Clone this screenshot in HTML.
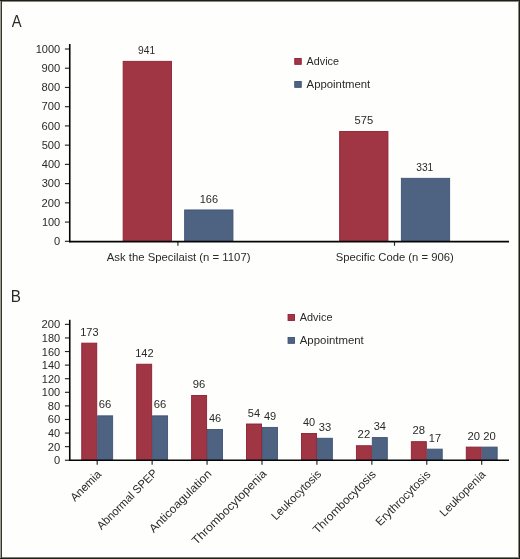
<!DOCTYPE html>
<html><head><meta charset="utf-8"><style>
html,body{margin:0;padding:0;background:#fefefd;width:520px;height:559px;overflow:hidden;}
svg{display:block;will-change:transform;}
</style></head><body>
<svg width="520" height="559" viewBox="0 0 520 559">
<rect x="0" y="0" width="520" height="559" fill="#fefefd"/>
<g font-family="Liberation Sans, sans-serif" fill="#2a2a28">
<text x="11.67" y="26.90" font-size="17.4" textLength="9.86" lengthAdjust="spacingAndGlyphs">A</text>
<text x="54.07" y="245.10" font-size="11.4" textLength="6.17" lengthAdjust="spacingAndGlyphs">0</text>
<text x="41.91" y="225.87" font-size="11.4" textLength="18.31" lengthAdjust="spacingAndGlyphs">100</text>
<text x="41.54" y="206.64" font-size="11.4" textLength="18.70" lengthAdjust="spacingAndGlyphs">200</text>
<text x="41.68" y="187.41" font-size="11.4" textLength="18.56" lengthAdjust="spacingAndGlyphs">300</text>
<text x="41.85" y="168.18" font-size="11.4" textLength="18.38" lengthAdjust="spacingAndGlyphs">400</text>
<text x="41.65" y="148.95" font-size="11.4" textLength="18.58" lengthAdjust="spacingAndGlyphs">500</text>
<text x="41.53" y="129.72" font-size="11.4" textLength="18.71" lengthAdjust="spacingAndGlyphs">600</text>
<text x="41.52" y="110.49" font-size="11.4" textLength="18.71" lengthAdjust="spacingAndGlyphs">700</text>
<text x="41.61" y="91.26" font-size="11.4" textLength="18.62" lengthAdjust="spacingAndGlyphs">800</text>
<text x="41.58" y="72.03" font-size="11.4" textLength="18.66" lengthAdjust="spacingAndGlyphs">900</text>
<text x="35.71" y="52.80" font-size="11.4" textLength="24.52" lengthAdjust="spacingAndGlyphs">1000</text>
<rect x="123.15" y="61.35" width="48.30" height="180.13" fill="#a03543" stroke="#8e2034" stroke-width="0.9"/>
<rect x="184.65" y="209.95" width="48.30" height="31.53" fill="#4e6382" stroke="#3e5377" stroke-width="0.9"/>
<text x="137.97" y="54.00" font-size="11.4" textLength="17.13" lengthAdjust="spacingAndGlyphs">941</text>
<text x="199.76" y="202.60" font-size="11.4" textLength="18.37" lengthAdjust="spacingAndGlyphs">166</text>
<rect x="339.65" y="131.53" width="48.30" height="109.95" fill="#a03543" stroke="#8e2034" stroke-width="0.9"/>
<rect x="401.35" y="178.31" width="48.30" height="63.17" fill="#4e6382" stroke="#3e5377" stroke-width="0.9"/>
<text x="354.50" y="124.18" font-size="11.4" textLength="18.62" lengthAdjust="spacingAndGlyphs">575</text>
<text x="416.26" y="170.96" font-size="11.4" textLength="17.04" lengthAdjust="spacingAndGlyphs">331</text>
<rect x="294.75" y="58.45" width="6.50" height="5.90" fill="#a03543" stroke="#8e2034" stroke-width="0.9"/>
<rect x="294.75" y="81.45" width="6.50" height="5.90" fill="#4e6382" stroke="#3e5377" stroke-width="0.9"/>
<text x="306.58" y="64.50" font-size="11.6" textLength="32.40" lengthAdjust="spacingAndGlyphs">Advice</text>
<text x="306.58" y="87.60" font-size="11.6" textLength="63.71" lengthAdjust="spacingAndGlyphs">Appointment</text>
<text x="106.78" y="260.70" font-size="11.6" textLength="143.72" lengthAdjust="spacingAndGlyphs">Ask the Specilaist (n = 1107)</text>
<text x="335.69" y="260.70" font-size="11.6" textLength="118.01" lengthAdjust="spacingAndGlyphs">Specific Code (n = 906)</text>
</g>
<g stroke="#050505" fill="none">
<line x1="64.9" y1="241.30" x2="69.5" y2="241.30" stroke="#262622" stroke-width="1.15"/>
<line x1="64.9" y1="222.07" x2="69.5" y2="222.07" stroke="#262622" stroke-width="1.15"/>
<line x1="64.9" y1="202.84" x2="69.5" y2="202.84" stroke="#262622" stroke-width="1.15"/>
<line x1="64.9" y1="183.61" x2="69.5" y2="183.61" stroke="#262622" stroke-width="1.15"/>
<line x1="64.9" y1="164.38" x2="69.5" y2="164.38" stroke="#262622" stroke-width="1.15"/>
<line x1="64.9" y1="145.15" x2="69.5" y2="145.15" stroke="#262622" stroke-width="1.15"/>
<line x1="64.9" y1="125.92" x2="69.5" y2="125.92" stroke="#262622" stroke-width="1.15"/>
<line x1="64.9" y1="106.69" x2="69.5" y2="106.69" stroke="#262622" stroke-width="1.15"/>
<line x1="64.9" y1="87.46" x2="69.5" y2="87.46" stroke="#262622" stroke-width="1.15"/>
<line x1="64.9" y1="68.23" x2="69.5" y2="68.23" stroke="#262622" stroke-width="1.15"/>
<line x1="64.9" y1="49.00" x2="69.5" y2="49.00" stroke="#262622" stroke-width="1.15"/>
<line x1="177.9" y1="241.3" x2="177.9" y2="245.8" stroke="#262622" stroke-width="1.15"/>
<line x1="394.5" y1="241.3" x2="394.5" y2="245.8" stroke="#262622" stroke-width="1.15"/>
<line x1="69.75" y1="44.0" x2="69.75" y2="242.3" stroke-width="1.6"/>
<line x1="69.0" y1="241.6" x2="509" y2="241.6" stroke-width="1.6"/>
</g>
<g font-family="Liberation Sans, sans-serif" fill="#2a2a28">
<text x="10.85" y="302.30" font-size="17.4" textLength="10.15" lengthAdjust="spacingAndGlyphs">B</text>
<text x="54.02" y="464.24" font-size="11.4" textLength="6.17" lengthAdjust="spacingAndGlyphs">0</text>
<text x="47.68" y="450.65" font-size="11.4" textLength="12.50" lengthAdjust="spacingAndGlyphs">20</text>
<text x="48.00" y="437.06" font-size="11.4" textLength="12.18" lengthAdjust="spacingAndGlyphs">40</text>
<text x="47.68" y="423.48" font-size="11.4" textLength="12.51" lengthAdjust="spacingAndGlyphs">60</text>
<text x="47.76" y="409.89" font-size="11.4" textLength="12.42" lengthAdjust="spacingAndGlyphs">80</text>
<text x="41.86" y="396.30" font-size="11.4" textLength="18.31" lengthAdjust="spacingAndGlyphs">100</text>
<text x="41.86" y="382.71" font-size="11.4" textLength="18.31" lengthAdjust="spacingAndGlyphs">120</text>
<text x="41.86" y="369.12" font-size="11.4" textLength="18.31" lengthAdjust="spacingAndGlyphs">140</text>
<text x="41.86" y="355.54" font-size="11.4" textLength="18.31" lengthAdjust="spacingAndGlyphs">160</text>
<text x="41.86" y="341.95" font-size="11.4" textLength="18.31" lengthAdjust="spacingAndGlyphs">180</text>
<text x="41.49" y="328.36" font-size="11.4" textLength="18.70" lengthAdjust="spacingAndGlyphs">200</text>
<rect x="81.75" y="343.15" width="15.00" height="117.24" fill="#a03543" stroke="#8e2034" stroke-width="0.9"/>
<rect x="97.65" y="415.85" width="15.00" height="44.54" fill="#4e6382" stroke="#3e5377" stroke-width="0.9"/>
<text x="80.21" y="335.70" font-size="11.4" textLength="18.37" lengthAdjust="spacingAndGlyphs">173</text>
<text x="98.83" y="408.40" font-size="11.4" textLength="12.57" lengthAdjust="spacingAndGlyphs">66</text>
<rect x="136.68" y="364.22" width="15.00" height="96.17" fill="#a03543" stroke="#8e2034" stroke-width="0.9"/>
<rect x="152.58" y="415.85" width="15.00" height="44.54" fill="#4e6382" stroke="#3e5377" stroke-width="0.9"/>
<text x="135.14" y="356.77" font-size="11.4" textLength="18.45" lengthAdjust="spacingAndGlyphs">142</text>
<text x="153.76" y="408.40" font-size="11.4" textLength="12.57" lengthAdjust="spacingAndGlyphs">66</text>
<rect x="191.61" y="395.47" width="15.00" height="64.92" fill="#a03543" stroke="#8e2034" stroke-width="0.9"/>
<rect x="207.51" y="429.44" width="15.00" height="30.95" fill="#4e6382" stroke="#3e5377" stroke-width="0.9"/>
<text x="192.83" y="388.02" font-size="11.4" textLength="12.52" lengthAdjust="spacingAndGlyphs">96</text>
<text x="209.01" y="421.99" font-size="11.4" textLength="12.24" lengthAdjust="spacingAndGlyphs">46</text>
<rect x="246.54" y="424.00" width="15.00" height="36.39" fill="#a03543" stroke="#8e2034" stroke-width="0.9"/>
<rect x="262.44" y="427.40" width="15.00" height="32.99" fill="#4e6382" stroke="#3e5377" stroke-width="0.9"/>
<text x="247.85" y="416.55" font-size="11.4" textLength="12.26" lengthAdjust="spacingAndGlyphs">54</text>
<text x="263.94" y="419.95" font-size="11.4" textLength="12.28" lengthAdjust="spacingAndGlyphs">49</text>
<rect x="301.47" y="433.51" width="15.00" height="26.88" fill="#a03543" stroke="#8e2034" stroke-width="0.9"/>
<rect x="317.37" y="438.27" width="15.00" height="22.12" fill="#4e6382" stroke="#3e5377" stroke-width="0.9"/>
<text x="302.97" y="426.06" font-size="11.4" textLength="12.18" lengthAdjust="spacingAndGlyphs">40</text>
<text x="318.69" y="430.82" font-size="11.4" textLength="12.42" lengthAdjust="spacingAndGlyphs">33</text>
<rect x="356.40" y="445.74" width="15.00" height="14.65" fill="#a03543" stroke="#8e2034" stroke-width="0.9"/>
<rect x="372.30" y="437.59" width="15.00" height="22.80" fill="#4e6382" stroke="#3e5377" stroke-width="0.9"/>
<text x="357.58" y="438.29" font-size="11.4" textLength="12.64" lengthAdjust="spacingAndGlyphs">22</text>
<text x="373.63" y="430.14" font-size="11.4" textLength="12.24" lengthAdjust="spacingAndGlyphs">34</text>
<rect x="411.33" y="441.67" width="15.00" height="18.72" fill="#a03543" stroke="#8e2034" stroke-width="0.9"/>
<rect x="427.23" y="449.14" width="15.00" height="11.25" fill="#4e6382" stroke="#3e5377" stroke-width="0.9"/>
<text x="412.51" y="434.22" font-size="11.4" textLength="12.56" lengthAdjust="spacingAndGlyphs">28</text>
<text x="428.79" y="441.69" font-size="11.4" textLength="12.24" lengthAdjust="spacingAndGlyphs">17</text>
<rect x="466.26" y="447.10" width="15.00" height="13.29" fill="#a03543" stroke="#8e2034" stroke-width="0.9"/>
<rect x="482.16" y="447.10" width="15.00" height="13.29" fill="#4e6382" stroke="#3e5377" stroke-width="0.9"/>
<text x="467.44" y="439.65" font-size="11.4" textLength="12.50" lengthAdjust="spacingAndGlyphs">20</text>
<text x="483.34" y="439.65" font-size="11.4" textLength="12.50" lengthAdjust="spacingAndGlyphs">20</text>
<rect x="288.05" y="314.55" width="6.50" height="5.90" fill="#a03543" stroke="#8e2034" stroke-width="0.9"/>
<rect x="288.05" y="337.45" width="6.50" height="5.90" fill="#4e6382" stroke="#3e5377" stroke-width="0.9"/>
<text x="299.78" y="320.80" font-size="11.6" textLength="32.71" lengthAdjust="spacingAndGlyphs">Advice</text>
<text x="299.78" y="343.80" font-size="11.6" textLength="64.01" lengthAdjust="spacingAndGlyphs">Appointment</text>
<text transform="translate(101.98,475.02) rotate(-45)" x="-38.33" y="0" font-size="11.6" textLength="38.33" lengthAdjust="spacingAndGlyphs">Anemia</text>
<text transform="translate(158.26,473.67) rotate(-45)" x="-80.13" y="0" font-size="11.6" textLength="80.13" lengthAdjust="spacingAndGlyphs">Abnormal SPEP</text>
<text transform="translate(212.27,474.59) rotate(-45)" x="-82.89" y="0" font-size="11.6" textLength="82.89" lengthAdjust="spacingAndGlyphs">Anticoagulation</text>
<text transform="translate(267.20,474.59) rotate(-45)" x="-100.04" y="0" font-size="11.6" textLength="100.04" lengthAdjust="spacingAndGlyphs">Thrombocytopenia</text>
<text transform="translate(321.99,474.73) rotate(-45)" x="-65.16" y="0" font-size="11.6" textLength="65.16" lengthAdjust="spacingAndGlyphs">Leukocytosis</text>
<text transform="translate(376.60,475.05) rotate(-45)" x="-83.75" y="0" font-size="11.6" textLength="83.75" lengthAdjust="spacingAndGlyphs">Thrombocytosis</text>
<text transform="translate(431.28,475.30) rotate(-45)" x="-72.24" y="0" font-size="11.6" textLength="72.24" lengthAdjust="spacingAndGlyphs">Erythrocytosis</text>
<text transform="translate(486.21,475.30) rotate(-45)" x="-59.35" y="0" font-size="11.6" textLength="59.35" lengthAdjust="spacingAndGlyphs">Leukopenia</text>
</g>
<g stroke="#050505" fill="none">
<line x1="64.9" y1="460.24" x2="69.5" y2="460.24" stroke="#262622" stroke-width="1.15"/>
<line x1="64.9" y1="446.65" x2="69.5" y2="446.65" stroke="#262622" stroke-width="1.15"/>
<line x1="64.9" y1="433.06" x2="69.5" y2="433.06" stroke="#262622" stroke-width="1.15"/>
<line x1="64.9" y1="419.48" x2="69.5" y2="419.48" stroke="#262622" stroke-width="1.15"/>
<line x1="64.9" y1="405.89" x2="69.5" y2="405.89" stroke="#262622" stroke-width="1.15"/>
<line x1="64.9" y1="392.30" x2="69.5" y2="392.30" stroke="#262622" stroke-width="1.15"/>
<line x1="64.9" y1="378.71" x2="69.5" y2="378.71" stroke="#262622" stroke-width="1.15"/>
<line x1="64.9" y1="365.12" x2="69.5" y2="365.12" stroke="#262622" stroke-width="1.15"/>
<line x1="64.9" y1="351.54" x2="69.5" y2="351.54" stroke="#262622" stroke-width="1.15"/>
<line x1="64.9" y1="337.95" x2="69.5" y2="337.95" stroke="#262622" stroke-width="1.15"/>
<line x1="64.9" y1="324.36" x2="69.5" y2="324.36" stroke="#262622" stroke-width="1.15"/>
<line x1="97.20" y1="460.1" x2="97.20" y2="464.8" stroke="#262622" stroke-width="1.15"/>
<line x1="152.13" y1="460.1" x2="152.13" y2="464.8" stroke="#262622" stroke-width="1.15"/>
<line x1="207.06" y1="460.1" x2="207.06" y2="464.8" stroke="#262622" stroke-width="1.15"/>
<line x1="261.99" y1="460.1" x2="261.99" y2="464.8" stroke="#262622" stroke-width="1.15"/>
<line x1="316.92" y1="460.1" x2="316.92" y2="464.8" stroke="#262622" stroke-width="1.15"/>
<line x1="371.85" y1="460.1" x2="371.85" y2="464.8" stroke="#262622" stroke-width="1.15"/>
<line x1="426.78" y1="460.1" x2="426.78" y2="464.8" stroke="#262622" stroke-width="1.15"/>
<line x1="481.71" y1="460.1" x2="481.71" y2="464.8" stroke="#262622" stroke-width="1.15"/>
<line x1="69.75" y1="319.8" x2="69.75" y2="461.0" stroke-width="1.6"/>
<line x1="69.0" y1="460.25" x2="509" y2="460.25" stroke-width="1.6"/>
</g>
<rect x="0" y="0" width="1" height="559" fill="#9c9e98"/>
<rect x="2" y="1" width="516" height="1" fill="#868681"/>
<rect x="2" y="557" width="516" height="1" fill="#7c7c77"/>
<rect x="518" y="1" width="1" height="557" fill="#868681"/>
<rect x="1" y="0" width="1" height="559" fill="#36362e"/>
<rect x="0" y="0" width="520" height="1" fill="#1f1f18"/>
<rect x="0" y="558" width="520" height="1" fill="#1f1f18"/>
<rect x="519" y="0" width="1" height="559" fill="#1f1f18"/>
</svg>
</body></html>
